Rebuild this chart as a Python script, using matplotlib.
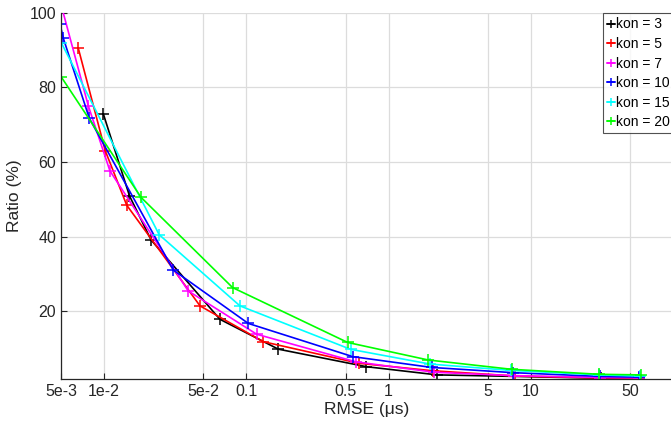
import matplotlib.pyplot as plt

plt.rcParams['font.family'] = ['Liberation Sans', 'DejaVu Sans']

# RMSE (us) and ratio (%) per kon value
x_k3 = [0.0099, 0.0151, 0.0214, 0.0653, 0.168, 0.70, 2.20, 7.64, 31.0, 57.5]
y_k3 = [72.8, 50.9, 39.1, 17.8, 9.8, 5.1, 2.9, 2.5, 2.0, 2.0]

x_k5 = [0.00659, 0.0102, 0.01444, 0.0473, 0.1317, 0.622, 2.06, 7.8, 30.5, 57.5]
y_k5 = [90.5, 63.0, 48.4, 21.4, 11.8, 6.0, 4.0, 2.6, 2.1, 2.0]

x_k7 = [0.005, 0.00776, 0.0110, 0.0391, 0.1184, 0.590, 2.1, 7.6, 30.5, 57.5]
y_k7 = [102.0, 75.0, 57.6, 25.4, 13.8, 6.4, 3.6, 2.7, 2.2, 2.1]

x_k10 = [0.0049, 0.00518, 0.00788, 0.0307, 0.1033, 0.560, 2.01, 7.5, 30.5, 58.0]
y_k10 = [97.0, 93.1, 71.7, 31.0, 16.7, 7.8, 4.9, 3.5, 2.5, 2.3]

x_k15 = [0.005, 0.0244, 0.0903, 0.542, 1.96, 7.3, 30.3, 58.5]
y_k15 = [92.0, 40.5, 21.4, 9.75, 5.8, 4.1, 2.9, 2.6]

x_k20 = [0.005, 0.0182, 0.0802, 0.516, 1.90, 7.33, 30.3, 59.2]
y_k20 = [82.8, 50.5, 26.3, 11.6, 6.9, 4.4, 3.06, 2.9]

series = [
    (x_k3, y_k3, '#000000', 'kon = 3'),
    (x_k5, y_k5, '#ff0000', 'kon = 5'),
    (x_k7, y_k7, '#ff00ff', 'kon = 7'),
    (x_k10, y_k10, '#0000ff', 'kon = 10'),
    (x_k15, y_k15, '#00ffff', 'kon = 15'),
    (x_k20, y_k20, '#00ff00', 'kon = 20'),
]

xticks = [5e-3, 1e-2, 5e-2, 0.1, 0.5, 1, 5, 10, 50]
xticklabels = ['5e-3', '1e-2', '5e-2', '0.1', '0.5', '1', '5', '10', '50']
yticks = [20, 40, 60, 80, 100]

W, H = 671, 424
fig = plt.figure(figsize=(W / 100, H / 100), dpi=100)
ax = fig.add_axes([61.2 / W, (H - 379) / H, (673 - 61.2) / W, (379 - 12.7) / H])

for xs, ys, c, lab in series:
    ax.plot(xs, ys, color=c, marker='+', markersize=8, markeredgewidth=1.1,
            linewidth=1.2, label=lab)

ax.set_xscale('log')
ax.set_xlim(5e-3, 100)
ax.set_ylim(1.8, 100)
ax.set_xticks(xticks)
ax.set_xticklabels(xticklabels)
ax.xaxis.set_minor_locator(plt.NullLocator())
ax.set_yticks(yticks)
ax.grid(True, color='#dcdcdc', linewidth=0.9)
ax.set_axisbelow(True)
ax.tick_params(direction='in', labelsize=11.5, colors='#262626', length=4)
ax.spines['top'].set_visible(False)
ax.spines['right'].set_visible(False)
for s in ('left', 'bottom'):
    ax.spines[s].set_color('#262626')
    ax.spines[s].set_linewidth(0.9)

ax.set_xlabel('RMSE (μs)', fontsize=12.5, color='#262626', labelpad=2)
ax.set_ylabel('Ratio (%)', fontsize=12.5, color='#262626')
ax.yaxis.set_label_coords(-(61.2 - 22) / (673 - 61.2), 0.5)

leg = fig.legend(loc='upper left', bbox_to_anchor=(603.0 / W, 1 - 13.3 / H),
                 fontsize=10, numpoints=1, handlelength=0.55, handletextpad=0.08,
                 borderpad=0.3, labelspacing=0.4, borderaxespad=0,
                 frameon=True, fancybox=False)
leg.get_frame().set_edgecolor('#262626')
leg.get_frame().set_linewidth(0.8)
for h in leg.legend_handles:
    h.set_markersize(6)

fig.savefig('out.png', dpi=100)
